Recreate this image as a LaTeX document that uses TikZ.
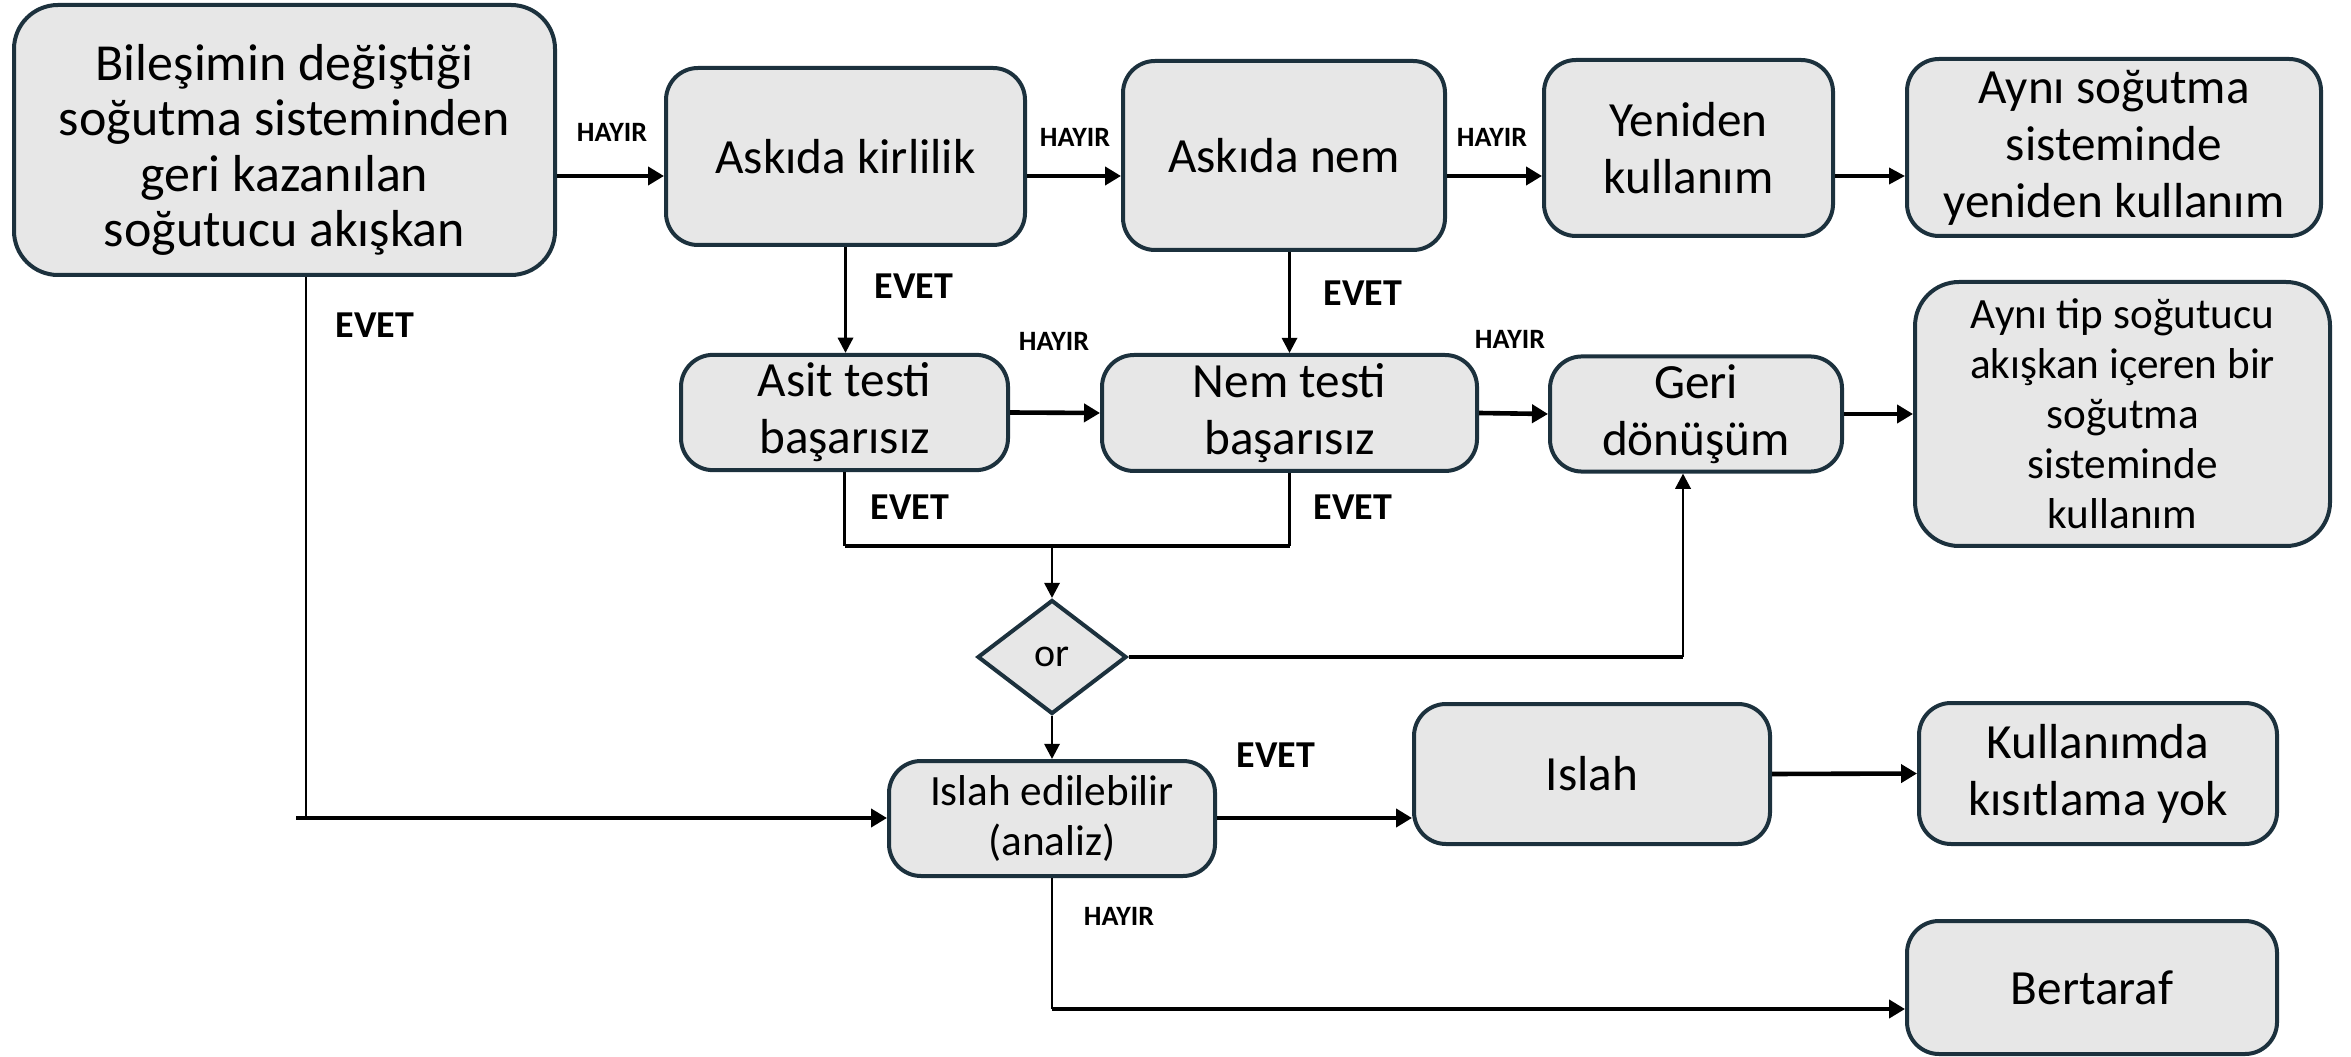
\documentclass[tikz,border=0pt]{standalone}
\usepackage{fontspec}
\setmainfont{Carlito}
\usetikzlibrary{arrows.meta,shapes.geometric,calc}
\definecolor{boxfill}{HTML}{E7E7E7}
\definecolor{boxline}{HTML}{1C313D}
\begin{document}
\begin{tikzpicture}[x=0.25pt,y=-0.25pt,
  box/.style={draw=boxline,fill=boxfill,line width=1pt,rounded corners=8pt,align=center,inner sep=2pt,font=\fontsize{12.3}{14.25}\selectfont},
  smallbox/.style={box,font=\fontsize{10.8}{12.5}\selectfont},
  thickarr/.style={line width=1.15pt,-{Triangle[length=4pt,width=4.5pt]}},
  medarr/.style={line width=0.9pt,-{Triangle[length=4pt,width=4pt]}},
  thinarr/.style={line width=0.7pt,-{Triangle[length=3.8pt,width=3.8pt]}},
  thinline/.style={line width=0.7pt},
  medline/.style={line width=0.8pt},
  thickline/.style={line width=1.15pt},
  hlab/.style={font=\bfseries\fontsize{7}{8}\selectfont,inner sep=0pt},
  elab/.style={font=\bfseries\fontsize{9.5}{11}\selectfont,inner sep=0pt}
]
\useasboundingbox (0,0) rectangle (2351,1057);

% boxes
\node[box,rounded corners=11pt,minimum width=135.25pt,minimum height=67.5pt,font=\fontsize{13}{13.8}\selectfont] (src) at (284.5,140)
  {\rule{0pt}{14pt}Bileşimin değiştiği\\soğutma sisteminden\\geri kazanılan\\soğutucu akışkan};
\node[box,minimum width=89.75pt,minimum height=44.25pt] (kir) at (845.5,156.5) {Askıda kirlilik};
\node[box,minimum width=80.5pt,minimum height=47.25pt] (nem) at (1284,155.5) {Askıda nem};
\node[box,minimum width=72.25pt,minimum height=44pt] (yen) at (1688.5,148) {Yeniden\\kullanım};
\node[box,minimum width=103.5pt,minimum height=44.25pt] (ayni) at (2114,147.5) {Aynı soğutma\\sisteminde\\yeniden kullanım};
\node[box,minimum width=81.75pt,minimum height=28.75pt] (asit) at (844.5,412.5) {Asit testi\\başarısız};
\node[box,minimum width=93.75pt,minimum height=29pt] (nemt) at (1289.5,413) {Nem testi\\başarısız};
\node[box,minimum width=73pt,minimum height=28.5pt] (geri) at (1696,414) {Geri\\dönüşüm};
\node[smallbox,rounded corners=11pt,minimum width=103.75pt,minimum height=66pt] (tip) at (2122.5,414)
  {Aynı tip soğutucu\\akışkan içeren bir\\soğutma\\sisteminde\\kullanım};
\node[draw=boxline,fill=boxfill,line width=1pt,shape=diamond,minimum width=37.25pt,minimum height=28.5pt,inner sep=0pt,font=\fontsize{10}{12}\selectfont] (or) at (1052,657) {or};
\node[smallbox,minimum width=81.5pt,minimum height=28.75pt] (isled) at (1052,818.5) {Islah edilebilir\\(analiz)};
\node[box,minimum width=89pt,minimum height=35pt] (islah) at (1592,774) {Islah};
\node[box,minimum width=89.5pt,minimum height=35.25pt] (kull) at (2098,773.5) {Kullanımda\\kısıtlama yok};
\node[box,minimum width=92.5pt,minimum height=33.25pt] (bert) at (2092,987.5) {Bertaraf};

% helper coordinates
\coordinate (r1) at (0,176);
\coordinate (bar) at (0,546);
\coordinate (gx) at (1683,0);
\coordinate (c1) at (306,818);
\coordinate (c0) at (296,818);
\coordinate (c2) at (1052,1009);

% connectors
\draw[thickarr] (src.east |- r1) -- (kir.west |- r1);
\draw[thickarr] (kir.east |- r1) -- (nem.west |- r1);
\draw[thickarr] (nem.east |- r1) -- (yen.west |- r1);
\draw[medarr] (yen.east |- r1) -- (ayni.west |- r1);
\draw[thinarr] (kir.south) -- (kir.south |- asit.north);
\draw[thinarr] (nemt.north |- nem.south) -- (nemt.north);
\draw[thickarr] (asit.east) -- (nemt.west);
\draw[thickarr] (nemt.east) -- (geri.west);
\draw[thickarr] (geri.east) -- (tip.west);
\draw[thinline] (asit.south) -- (asit.south |- bar);
\draw[thinline] (nemt.south) -- (nemt.south |- bar);
\draw[thickline] (asit.south |- bar) -- (nemt.south |- bar);
\draw[thinarr] (or.north |- bar) -- (or.north);
\draw[medline] (or.east) -- (or.east -| gx);
\draw[thinarr] (or.east -| gx) -- (gx |- geri.south);
\draw[thinarr] (or.south) -- (isled.north);
\draw[thinline] (c1 |- src.south) -- (c1);
\draw[thickarr] (c0) -- (isled.west |- c0);
\draw[thickarr] (isled.east |- c1) -- (islah.west |- c1);
\draw[thickarr] (islah.east) -- (kull.west);
\draw[thinline] (isled.south) -- (c2);
\draw[thickarr] (c2) -- (bert.west |- c2);

% labels
\node[hlab] (h1) at (612,132) {HAYIR};
\node[hlab] (h2) at (1075,137) {HAYIR};
\node[hlab] (h3) at (1492,137) {HAYIR};
\node[elab] (e1) at (914,286) {EVET};
\node[elab] (e2) at (1363,293) {EVET};
\node[hlab] (h4) at (1054,341) {HAYIR};
\node[hlab] (h5) at (1510,339) {HAYIR};
\node[elab] (e3) at (910,507) {EVET};
\node[elab] (e4) at (1353,507) {EVET};
\node[elab] (e5) at (375,325) {EVET};
\node[elab] (e6) at (1276,755) {EVET};
\node[hlab] (h6) at (1119,916) {HAYIR};
\end{tikzpicture}
\end{document}
